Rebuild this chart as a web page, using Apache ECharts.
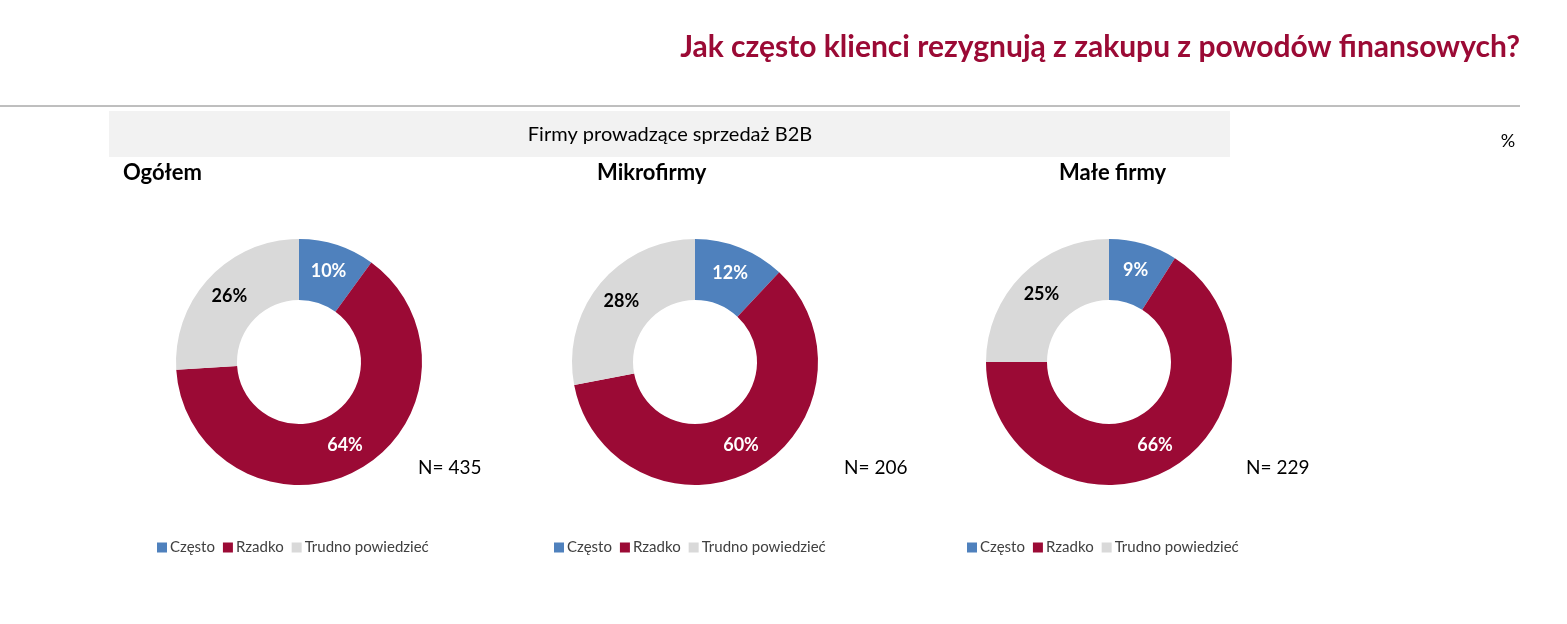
<!DOCTYPE html><html><head><meta charset="utf-8"><script src="https://cdn.jsdelivr.net/npm/echarts@6/dist/echarts.min.js"></script>
<style>html,body{margin:0;padding:0;background:#fff}#c{width:1567px;height:624px}</style></head><body><div id="c"></div><script>
const categories=["Często","Rzadko","Trudno powiedzieć"];
const groups=["Ogółem","Mikrofirmy","Małe firmy"];
const ogolem=[10,64,26];
const mikro=[12,60,28];
const male=[9,66,25];
const nLabels=["N= 435","N= 206","N= 229"];
const colors=["#4f81bd","#9b0a35","#d9d9d9"];
const F="Lato, 'Open Sans', sans-serif";
const centers=[299,695,1109];
const groupX=[123,597,1059];
const nX=[418,844,1246];
const legX=[152,549,962];
const vals=[ogolem,mikro,male];
const chart=echarts.init(document.getElementById('c'));
const series=vals.map((v,i)=>({type:'pie',center:[centers[i],362],radius:[62,123],startAngle:90,clockwise:true,silent:true,
 label:{position:'inside',formatter:'{c}%',fontFamily:F,fontWeight:'bold',fontSize:18,color:'#fff'},labelLine:{show:false},
 data:v.map((x,j)=>({name:categories[j],value:x,itemStyle:{color:colors[j]},label:{color:j==2?'#000':'#fff'}}))}));
const graphic=[
 {type:'text',right:47,top:32,style:{text:'Jak często klienci rezygnują z zakupu z powodów finansowych?',font:'bold 30px '+F,fill:'#9b0a35'}},
 {type:'line',shape:{x1:0,y1:106,x2:1520,y2:106},style:{stroke:'#7f7f7f',lineWidth:1}},
 {type:'rect',shape:{x:109,y:111,width:1121,height:46},style:{fill:'#f2f2f2'}},
 {type:'text',x:670,y:135,style:{text:'Firmy prowadzące sprzedaż B2B',font:'20px '+F,fill:'#000',align:'center',verticalAlign:'middle'}},
 {type:'text',x:1508,y:141,style:{text:'%',font:'18px '+F,fill:'#000',align:'center',verticalAlign:'middle'}}
];
groups.forEach((g,i)=>{
 graphic.push({type:'text',x:groupX[i],y:173,style:{text:g,font:'bold 22px '+F,fill:'#000',verticalAlign:'middle'}});
 graphic.push({type:'text',x:nX[i],y:468,style:{text:nLabels[i],font:'19px '+F,fill:'#000',verticalAlign:'middle'}});
});
const legend=legX.map(x=>({left:x,top:535,itemWidth:10,itemHeight:10,itemGap:8,icon:'rect',textStyle:{fontFamily:F,fontSize:15,color:'#404040',padding:[0,0,0,-2]},data:categories}));
chart.setOption({animation:false,color:colors,legend,series,graphic});
</script></body></html>
